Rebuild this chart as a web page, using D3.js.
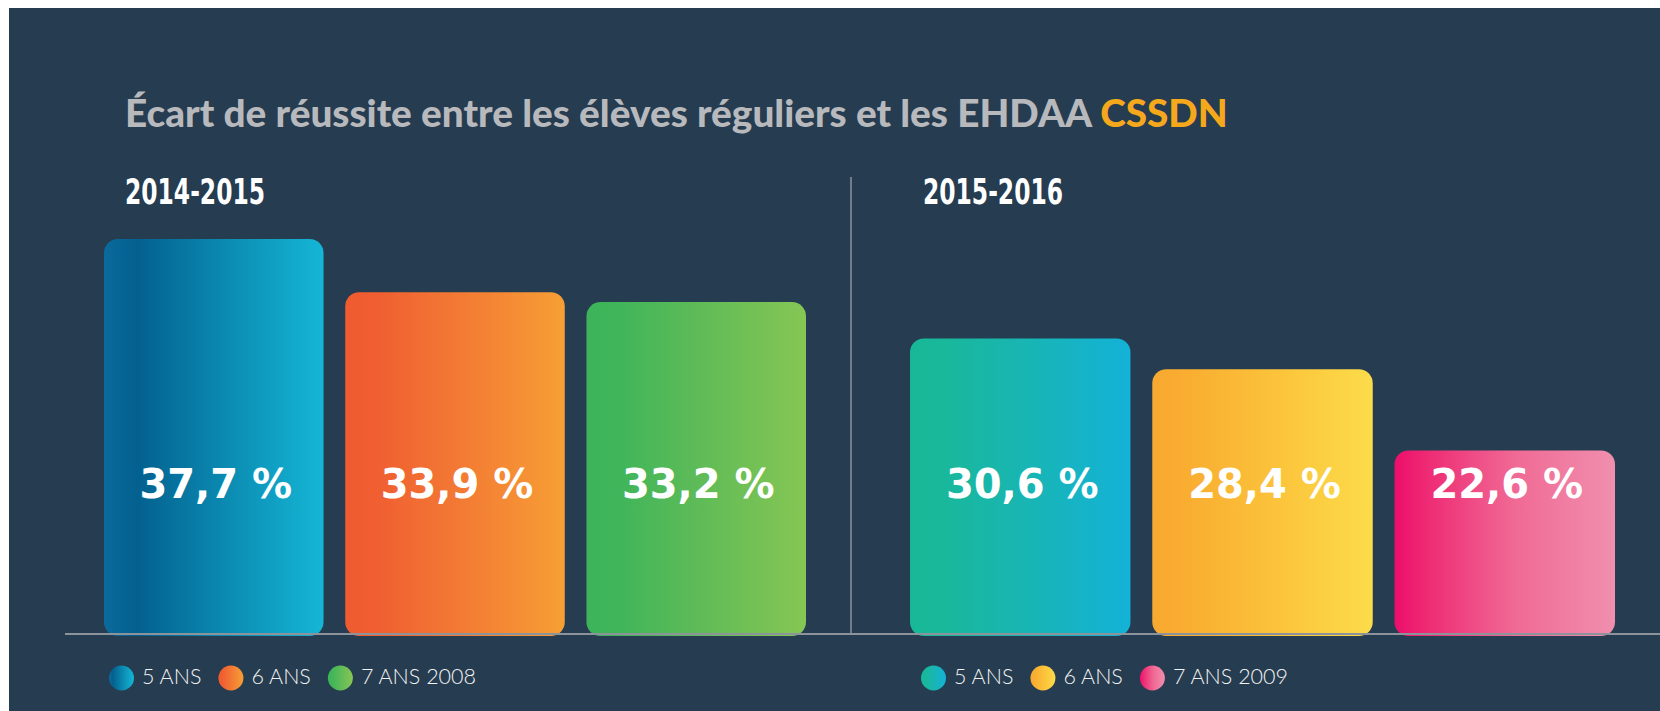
<!DOCTYPE html>
<html>
<head>
<meta charset="utf-8">
<script src="https://cdn.jsdelivr.net/npm/d3@7"></script>
<style>
  html, body { margin: 0; padding: 0; background: #ffffff; }
  svg { display: block; }
</style>
</head>
<body>
<svg id="chart" width="1660" height="711"></svg>
<script>
// ---------- data ----------
const titleMain = "Écart de réussite entre les élèves réguliers et les EHDAA ";
const titleAccent = "CSSDN";
const periods = ["2014-2015", "2015-2016"];
const categories = ["5 ANS", "6 ANS", "7 ANS"];
const values2014 = [37.7, 33.9, 33.2];
const values2015 = [30.6, 28.4, 22.6];
const legend2014 = ["5 ANS", "6 ANS", "7 ANS 2008"];
const legend2015 = ["5 ANS", "6 ANS", "7 ANS 2009"];
// gradient palettes (left → right colours)
const palette2014 = [
  ["#0b6a9c", "#03608f", "#0b8ab1", "#15b6d6"],
  ["#f05a30", "#f05f31", "#f37c34", "#f79f35"],
  ["#3db45a", "#40b55a", "#62bc57", "#86c654"]
];
const palette2015 = [
  ["#17b898", "#19b89b", "#18b5b5", "#13b2d8"],
  ["#f8a930", "#f9ad31", "#fbc23a", "#fcdc4b"],
  ["#ec0e6b", "#ee2b74", "#f06a95", "#f08fae"]
];

// ---------- layout ----------
const W = 1660, H = 711;
const svg = d3.select("#chart");
const defs = svg.append("defs");

svg.append("rect").attr("x", 9).attr("y", 8).attr("width", W - 9).attr("height", H - 8)
  .attr("fill", "#263c50");

const baseY = 634;
const y = d3.scaleLinear().domain([9.5, 37.7]).range([baseY, 239]);

const groupsSpec = [
  { period: periods[0], values: values2014, legend: legend2014, palette: palette2014,
    range: [104, 806], labelX: 125, legendX: 109 },
  { period: periods[1], values: values2015, legend: legend2015, palette: palette2015,
    range: [910, 1615], labelX: 923, legendX: 921 }
];

// title
const title = svg.append("text")
  .attr("x", 125).attr("y", 127)
  .attr("font-family", "Lato, 'Open Sans', sans-serif")
  .attr("font-weight", 900)
  .attr("font-size", 36)
  .attr("fill", "#b8b9bd");
title.append("tspan").text(titleMain);
title.append("tspan").attr("fill", "#f6a81c").text(titleAccent);
{
  const w = title.node().getComputedTextLength();
  const target = 1103;
  title.attr("font-size", 36 * target / w);
}

groupsSpec.forEach((g, gi) => {
  const x = d3.scaleBand().domain(categories).range(g.range).paddingInner(0.09).paddingOuter(0);

  // gradients
  g.palette.forEach((cols, i) => {
    const grad = defs.append("linearGradient")
      .attr("id", `grad-${gi}-${i}`)
      .attr("x1", "0%").attr("x2", "100%").attr("y1", "0%").attr("y2", "0%");
    grad.append("stop").attr("offset", "0%").attr("stop-color", cols[0]);
    grad.append("stop").attr("offset", "15%").attr("stop-color", cols[1]);
    grad.append("stop").attr("offset", "55%").attr("stop-color", cols[2]);
    grad.append("stop").attr("offset", "100%").attr("stop-color", cols[3]);
  });

  // period label
  svg.append("text")
    .attr("x", g.labelX).attr("y", 204)
    .attr("font-family", "'Liberation Sans Narrow', 'DejaVu Sans Condensed', 'Roboto Condensed', sans-serif")
    .attr("font-weight", 700)
    .attr("font-size", 36)
    .attr("fill", "#ffffff")
    .attr("textLength", 140).attr("lengthAdjust", "spacingAndGlyphs")
    .text(g.period);

  // bars
  const data = categories.map((c, i) => ({ c, v: g.values[i], i }));
  svg.append("g").selectAll("rect").data(data).join("rect")
    .attr("x", d => x(d.c))
    .attr("y", d => y(d.v))
    .attr("width", x.bandwidth())
    .attr("height", d => baseY + 2 - y(d.v))
    .attr("rx", 14).attr("ry", 14)
    .attr("fill", d => `url(#grad-${gi}-${d.i})`);

  // value labels
  svg.append("g").selectAll("text").data(data).join("text")
    .attr("x", d => x(d.c) + x.bandwidth() / 2 + 2)
    .attr("y", 498)
    .attr("text-anchor", "middle")
    .attr("font-family", "'DejaVu Sans', sans-serif")
    .attr("font-weight", 700)
    .attr("font-size", 40)
    .attr("fill", "#ffffff")
    .text(d => d3.format(".1f")(d.v).replace(".", ",") + " %");

  // legend
  let cx = g.legendX + 12.5;
  const lg = svg.append("g");
  g.legend.forEach((lab, i) => {
    lg.append("circle").attr("cx", cx).attr("cy", 678).attr("r", 12.5)
      .attr("fill", `url(#grad-${gi}-${i})`);
    const t = lg.append("text")
      .attr("x", cx + 20.5).attr("y", 684)
      .attr("font-family", "Lato, 'Open Sans', sans-serif")
      .attr("font-weight", 300)
      .attr("font-size", 21.5)
      .attr("fill", "#f2f2f2")
      .text(lab);
    const w = t.node().getComputedTextLength();
    cx = cx + 20.5 + w + 17 + 12.5;
  });
});

// divider & baseline
svg.append("line").attr("x1", 851).attr("x2", 851).attr("y1", 177).attr("y2", baseY)
  .attr("stroke", "#8c939b").attr("stroke-width", 1.5);
svg.append("line").attr("x1", 65).attr("x2", W).attr("y1", baseY).attr("y2", baseY)
  .attr("stroke", "#8c939b").attr("stroke-width", 2);
</script>
</body>
</html>
